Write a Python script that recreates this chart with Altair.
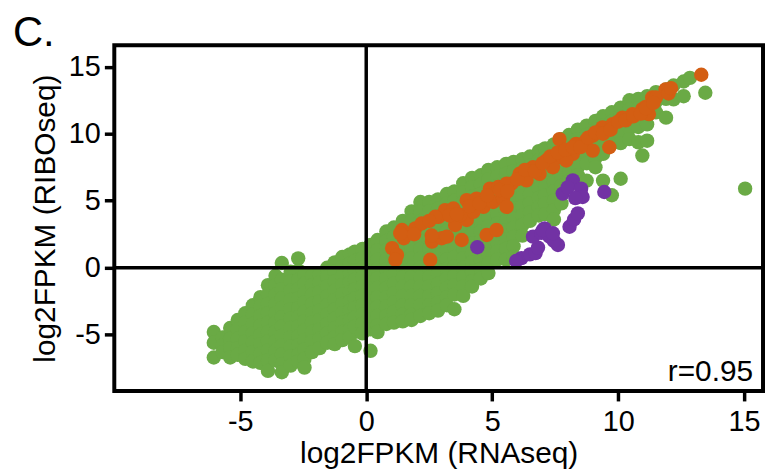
import altair as alt
import pandas as pd

# ---- data (log2FPKM) ----
# green genes, given column by column: (RNAseq x, [RIBOseq y values])
green_columns = [
    (-6.05, [-4.8, -5.6, -6.7]),
    (-5.7, [-5.2, -5.8, -6.3]),
    (-5.4, [-4.5, -5.3, -6.0, -6.7]),
    (-5.1, [-3.9, -4.6, -5.3, -6.0, -6.5]),
    (-4.8, [-3.4, -4.1, -4.8, -5.5, -6.2, -6.8]),
    (-4.5, [-2.8, -3.5, -4.2, -4.9, -5.6, -6.3, -7.0]),
    (-4.2, [-2.2, -2.9, -3.6, -4.3, -5.0, -5.7, -6.4, -7.1]),
    (-3.9, [-1.3, -2.0, -2.7, -3.4, -4.1, -4.8, -5.5, -6.2, -6.9, -7.7]),
    (-3.6, [-0.6, -1.3, -2.0, -2.7, -3.4, -4.1, -4.8, -5.5, -6.2, -6.9]),
    (-3.35, [0.35, -0.9, -1.6, -2.3, -3.0, -3.7, -4.4, -5.1, -5.8, -6.5, -7.2, -7.8]),
    (-3.0, [-0.3, -1.0, -1.7, -2.4, -3.1, -3.8, -4.5, -5.2, -5.9, -6.6, -7.3]),
    (-2.7, [0.7, -0.2, -0.9, -1.6, -2.3, -3.0, -3.7, -4.4, -5.1, -5.8, -6.5, -7.0]),
    (-2.45, [-0.5, -1.2, -1.9, -2.6, -3.3, -4.0, -4.7, -5.4, -6.1, -6.8, -7.45]),
    (-2.15, [-0.6, -1.3, -2.0, -2.7, -3.4, -4.1, -4.8, -5.5, -6.3]),
    (-1.85, [-0.5, -1.1, -1.8, -2.5, -3.2, -3.9, -4.6, -5.3, -6.0]),
    (-1.55, [0.0, -0.7, -1.4, -2.1, -2.8, -3.5, -4.2, -4.9, -5.6]),
    (-1.25, [0.4, -0.3, -1.0, -1.7, -2.4, -3.1, -3.8, -4.5, -5.2, -5.7]),
    (-0.95, [0.8, 0.1, -0.6, -1.3, -2.0, -2.7, -3.4, -4.1, -4.8, -5.4]),
    (-0.65, [1.0, 0.3, -0.4, -1.1, -1.8, -2.5, -3.2, -3.9, -4.6, -5.2]),
    (-0.45, [1.2, 0.5, -0.2, -0.9, -1.6, -2.3, -3.0, -3.7, -4.4, -5.85]),
    (-0.15, [1.4, 0.7, 0.0, -0.7, -1.4, -2.1, -2.8, -3.5, -4.2, -4.9]),
    (0.17, [1.7, 1.0, 0.3, -0.4, -1.1, -1.8, -2.5, -3.2, -3.9, -4.6, -6.2]),
    (0.45, [2.07, 1.3, 0.6, -0.1, -0.8, -1.5, -2.2, -2.9, -3.6, -4.3, -4.8]),
    (0.8, [2.7, 2.0, 1.3, 0.6, -0.1, -0.8, -1.5, -2.2, -2.9, -3.6, -4.2]),
    (1.1, [3.0, 2.3, 1.6, 0.9, 0.2, -0.5, -1.2, -1.9, -2.6, -3.3, -4.1]),
    (1.45, [3.5, 2.8, 2.1, 1.4, 0.7, 0.0, -0.7, -1.4, -2.1, -2.8, -3.5, -4.0]),
    (1.8, [4.2, 3.5, 2.8, 2.1, 1.4, 0.7, 0.0, -0.7, -1.4, -2.1, -2.8, -3.5, -3.9]),
    (2.15, [4.9, 4.2, 3.5, 2.8, 2.1, 1.4, 0.7, 0.0, -0.7, -1.4, -2.1, -2.8, -3.6]),
    (2.5, [4.9, 4.2, 3.5, 2.8, 2.1, 1.4, 0.7, 0.0, -0.7, -1.4, -2.1, -2.8, -3.4]),
    (2.85, [5.1, 4.4, 3.7, 3.0, 2.3, 1.6, 0.9, 0.2, -0.5, -1.2, -1.9, -2.6, -3.2]),
    (3.2, [5.5, 4.8, 4.1, 3.4, 2.7, 2.0, 1.3, 0.6, -0.1, -0.8, -1.5, -2.2, -2.8]),
    (3.5, [5.7, 5.0, 4.3, 3.6, 2.9, 2.2, 1.5, 0.8, 0.1, -0.6, -1.3, -2.0, -3.1]),
    (3.85, [6.3, 5.6, 4.9, 4.2, 3.5, 2.8, 2.1, 1.4, 0.7, 0.0, -0.7, -1.4, -2.1]),
    (4.2, [6.7, 6.0, 5.3, 4.6, 3.9, 3.2, 2.5, 1.8, 1.1, 0.4, -0.3, -1.0, -1.4]),
    (4.55, [6.9, 6.2, 5.5, 4.8, 4.1, 3.4, 2.7, 2.0, 1.3, 0.6, -0.1, -0.8]),
    (4.85, [7.3, 6.6, 5.9, 5.2, 4.5, 3.8, 3.1, 2.4, 1.7, 1.0, 0.3, -0.4]),
    (5.2, [7.5, 6.8, 6.1, 5.4, 4.7, 4.0, 3.3, 2.6, 1.9, 1.2, 0.6]),
    (5.55, [7.75, 7.0, 6.3, 5.6, 4.9, 4.2, 3.5, 2.8, 2.1, 1.4, 0.6]),
    (5.85, [7.9, 7.2, 6.5, 5.8, 5.1, 4.4, 3.7, 3.0, 2.3, 1.6, 0.84]),
    (6.2, [8.1, 7.4, 6.7, 6.0, 5.3, 4.6, 3.9, 3.2, 2.4]),
    (6.5, [8.3, 7.6, 6.9, 6.2, 5.5, 4.8, 4.1, 3.5]),
    (6.85, [8.7, 8.0, 7.3, 6.6, 5.9, 5.2, 4.5, 3.9]),
    (7.1, [8.9, 8.2, 7.5, 6.8, 6.1, 5.4, 4.8, 4.0]),
    (7.45, [9.2, 8.5, 7.8, 7.1, 6.4, 5.7, 5.0, 4.3, 3.6]),
    (7.75, [9.6, 8.9, 8.2, 7.5, 6.8, 6.1, 4.8]),
    (8.05, [9.9, 9.2, 8.5, 7.8, 7.1, 6.5]),
    (8.4, [10.3, 9.6, 8.9, 8.2, 7.5, 6.9]),
    (8.75, [10.6, 9.9, 9.2, 8.5, 7.8, 6.5]),
    (9.1, [10.96, 10.3, 9.6, 8.9, 8.2, 7.5]),
    (9.4, [11.3, 10.6, 9.9, 9.2, 8.5, 6.5]),
    (9.75, [11.6, 10.9, 10.2, 9.5, 5.41]),
    (10.1, [11.95, 11.3, 10.6, 9.9, 9.3, 6.64]),
    (10.45, [12.5, 11.8, 11.1, 10.4, 9.6]),
    (10.8, [12.6, 11.9, 11.2, 10.5, 9.36]),
    (10.96, [8.37]),
    (11.15, [12.8, 12.1, 11.4, 10.7, 9.48]),
    (11.5, [13.1, 12.4, 11.6]),
    (11.9, [13.3, 12.6, 11.2]),
    (12.2, [13.6, 12.57]),
    (12.6, [13.9, 12.8]),
    (12.85, [14.17]),
    (13.46, [13.06]),
    (15.04, [5.9]),
]

orange_x = [1.03, 1.22, 1.16, 1.42, 1.49, 1.95, 2.54, 2.61, 3.0, 3.79, 4.78, 5.17,
            2.87, 3.13, 3.46, 3.53, 3.99, 3.99, 4.38, 4.65, 5.04, 4.91, 5.24, 5.43,
            5.57, 5.76, 4.25, 3.73, 1.35, 5.57, 6.09, 6.62, 7.15, 7.67, 7.67, 8.2,
            8.33, 8.72, 8.99, 9.38, 9.65, 9.78, 10.17, 10.57, 10.96, 11.22, 11.35,
            6.36, 6.88, 7.41, 7.94, 8.99, 13.3, 11.88, 11.5, 11.09, 2.74, 3.2,
            2.2, 2.5, 3.3, 3.6, 4.1, 4.5, 4.8, 5.3, 5.6, 2.6, 1.9,
            6.0, 6.3, 6.7, 7.0, 7.3, 7.6, 7.9, 8.2, 8.5, 8.8, 9.1, 9.4, 9.7,
            10.0, 10.3, 10.6, 10.9, 11.1, 11.4, 12.0, 12.1]
orange_y = [1.46, 0.96, 0.59, 2.81, 2.2, 2.94, 0.59, 1.95, 2.2, 2.07, 2.44, 2.81,
            3.8, 4.3, 4.42, 3.19, 3.56, 5.04, 5.16, 4.54, 4.91, 5.9, 6.02, 5.16,
            4.54, 6.27, 4.17, 3.93, 2.57, 6.27, 7.01, 7.5, 8.0, 8.24, 9.6, 8.5,
            9.24, 9.48, 9.85, 10.47, 8.99, 10.72, 11.2, 11.46, 11.83, 11.46, 12.7,
            6.52, 7.01, 7.5, 8.0, 8.74, 14.4, 13.3, 12.7, 12.0, 3.8, 2.32,
            3.3, 3.5, 3.9, 4.0, 4.6, 4.8, 5.4, 5.8, 5.7, 2.4, 2.5,
            6.6, 7.3, 7.2, 7.8, 8.3, 8.6, 8.8, 9.0, 9.0, 9.7, 10.1, 10.0, 10.3,
            10.9, 11.0, 11.3, 11.5, 11.9, 12.3, 13.0, 13.4]

purple_x = [4.41, 6.16, 5.95, 6.5, 6.72, 6.82, 6.62, 6.95, 7.08, 7.28, 7.61, 7.45,
            8.07, 8.25, 8.4, 8.2, 7.8, 8.0, 8.53, 8.59, 8.3, 9.45, 7.01, 7.41]
purple_y = [1.53, 0.72, 0.5, 1.0, 1.09, 1.5, 2.32, 2.6, 2.94, 2.32, 1.7, 2.0,
            3.06, 3.6, 4.05, 6.52, 5.53, 6.0, 5.9, 5.28, 5.2, 5.65, 2.81, 2.57]

x_ticks = [-5, 0, 5, 10, 15]
y_ticks = [-5, 0, 5, 10, 15]
x_domain = [-10, 15.75]
y_domain = [-9.2, 16.6]
panel_label = "C."
r_label = "r=0.95"
x_title = "log2FPKM (RNAseq)"
y_title = "log2FPKM (RIBOseq)"

green_x = [cx for cx, ys in green_columns for _ in ys]
green_y = [y for _, ys in green_columns for y in ys]

GREEN = "#6aaa45"
ORANGE = "#d35e13"
PURPLE = "#7232a4"
FONT = "Liberation Sans"
SIZE = 210
LW = 3.5

xs = alt.Scale(domain=x_domain, nice=False, zero=False)
ys = alt.Scale(domain=y_domain, nice=False, zero=False)

x_axis = alt.Axis(values=x_ticks, title=x_title, grid=False, domain=False,
                  labelExpr="'' + datum.value",
                  tickSize=10, tickWidth=LW, tickColor="black",
                  labelFontSize=29, labelColor="black", labelPadding=7,
                  titleFontSize=30, titleFontWeight="normal", titleColor="black",
                  titlePadding=2, labelFont=FONT, titleFont=FONT)
y_axis = alt.Axis(values=y_ticks, title=y_title, grid=False, domain=False,
                  labelExpr="'' + datum.value",
                  tickSize=10, tickWidth=LW, tickColor="black",
                  labelFontSize=29, labelColor="black", labelPadding=4,
                  titleFontSize=30, titleFontWeight="normal", titleColor="black",
                  titlePadding=8, labelFont=FONT, titleFont=FONT)


def scatter(xv, yv, color):
    df = pd.DataFrame({"x": xv, "y": yv})
    return alt.Chart(df).mark_circle(size=SIZE, opacity=1, color=color).encode(
        x=alt.X("x:Q", scale=xs, axis=x_axis),
        y=alt.Y("y:Q", scale=ys, axis=y_axis),
    )


green = scatter(green_x, green_y, GREEN)
orange = scatter(orange_x, orange_y, ORANGE)
purple = scatter(purple_x, purple_y, PURPLE)

vrule = alt.Chart(pd.DataFrame({"x": [0]})).mark_rule(color="black", strokeWidth=LW).encode(
    x=alt.X("x:Q", scale=xs))
hrule = alt.Chart(pd.DataFrame({"y": [0]})).mark_rule(color="black", strokeWidth=LW).encode(
    y=alt.Y("y:Q", scale=ys))

lbl = alt.Chart(pd.DataFrame({"t": [panel_label]})).mark_text(
    font=FONT, fontSize=42, align="left", baseline="alphabetic", color="black"
).encode(text="t:N", x=alt.value(-102), y=alt.value(1))

rtxt = alt.Chart(pd.DataFrame({"t": [r_label]})).mark_text(
    font=FONT, fontSize=30, align="right", baseline="alphabetic", color="black"
).encode(text="t:N", x=alt.value(643), y=alt.value(338))

chart = alt.layer(green, orange, purple, vrule, hrule, lbl, rtxt).properties(
    width=653, height=348,
    background="white",
    autosize=alt.AutoSizeParams(type="none"),
    padding={"left": 107, "top": 36, "right": 2, "bottom": 80},
).configure_view(stroke="black", strokeWidth=LW + 0.5)

chart.save("out.html", embed_options={"renderer": "svg", "actions": False})
